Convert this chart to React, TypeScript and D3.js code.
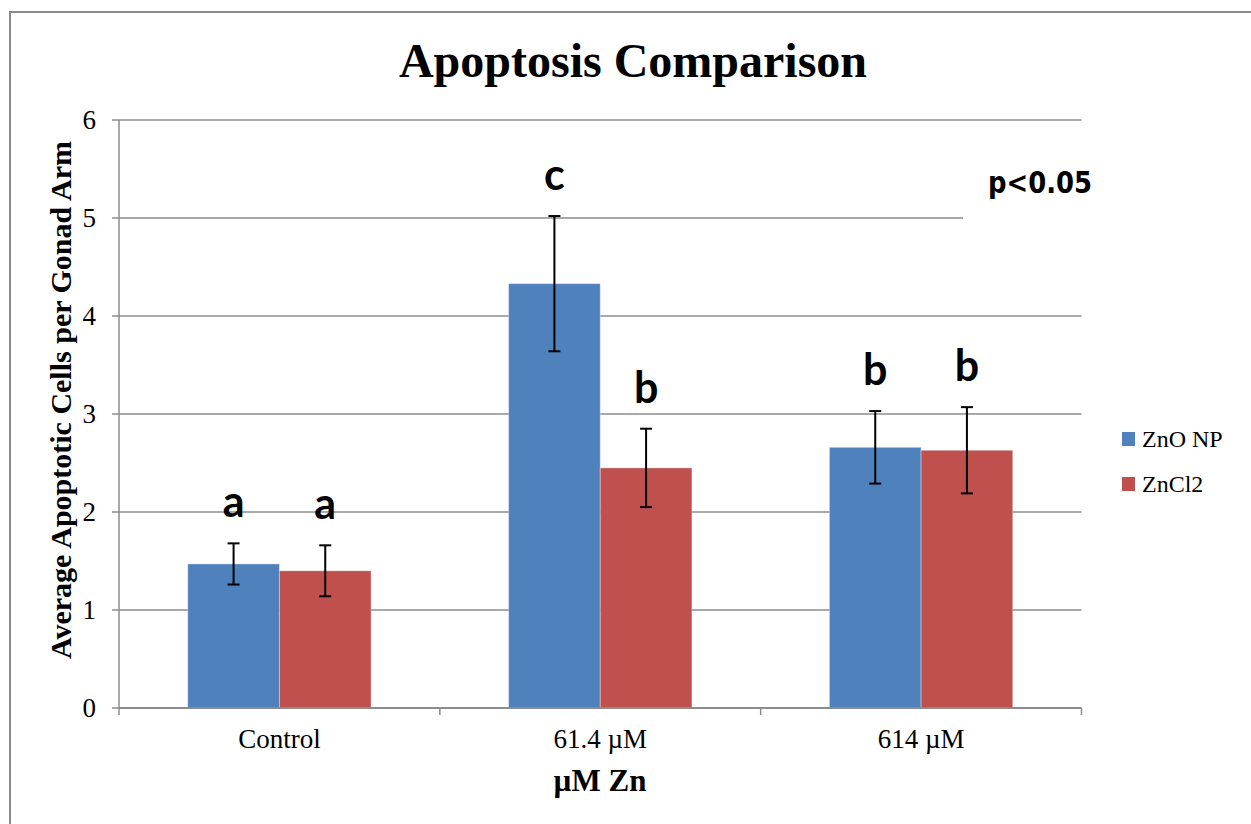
import React from 'react';
import { scaleBand, scaleLinear, range } from 'd3';

const categories = ['Control', '61.4 \u00b5M', '614 \u00b5M'];
const seriesNames = ['ZnO NP', 'ZnCl2'];
const seriesColors = ['#4F81BD', '#C0504D'];
// values[series][category]
const znoValues = [1.47, 4.33, 2.66];
const zncl2Values = [1.4, 2.45, 2.63];
const znoErrors = [0.21, 0.69, 0.37];
const zncl2Errors = [0.26, 0.4, 0.44];
const znoLetters = ['a', 'c', 'b'];
const zncl2Letters = ['a', 'b', 'b'];
const yTicks = [0, 1, 2, 3, 4, 5, 6];

const width = 1251;
const height = 824;
const margin = { top: 120, right: 170, bottom: 116, left: 119 };

const serif = '"Liberation Serif", "Times New Roman", serif';
const gridColor = '#8c8c8c';

function App() {
  const innerRight = width - margin.right + 0.5;
  const innerBottom = height - margin.bottom;

  const x = scaleBand<string>()
    .domain(categories)
    .range([margin.left, innerRight])
    .padding(0);

  const xInner = scaleBand<string>()
    .domain(seriesNames)
    .range([0, x.bandwidth()])
    .paddingInner(0)
    .paddingOuter(0.75);

  const y = scaleLinear().domain([0, 6]).range([innerBottom, margin.top]);

  const series = [
    { name: seriesNames[0], color: seriesColors[0], values: znoValues, errors: znoErrors, letters: znoLetters },
    { name: seriesNames[1], color: seriesColors[1], values: zncl2Values, errors: zncl2Errors, letters: zncl2Letters },
  ];

  const boundaries = range(categories.length + 1).map(i =>
    i < categories.length ? (x(categories[i]) as number) : innerRight
  );

  return (
    <svg
      width={width}
      height={height}
      style={{ position: 'absolute', left: 0, top: 0, background: '#fff' }}
    >
      <rect x={10} y={12} width={width + 20} height={height + 20} fill="#fff" stroke="#8a8a8a" strokeWidth={2} />

      <text x={633} y={77} textAnchor="middle" fontFamily={serif} fontWeight="bold" fontSize={48}>
        Apoptosis Comparison
      </text>

      {/* gridlines */}
      {yTicks.slice(1).map(t => (
        <line key={t} x1={margin.left} x2={innerRight} y1={y(t)} y2={y(t)} stroke={gridColor} strokeWidth={1.5} />
      ))}

      {/* text box for p value hides part of gridline */}
      <rect x={963} y={160} width={140} height={64} fill="#fff" />
      <text
        x={988}
        y={193}
        fontFamily='"DejaVu Sans", Verdana, sans-serif'
        fontWeight="bold"
        fontSize={30}
        textLength={104}
        lengthAdjust="spacingAndGlyphs"
      >
        p&lt;0.05
      </text>

      {/* bars */}
      {series.map(s =>
        categories.map((c, i) => {
          const bx = (x(c) as number) + (xInner(s.name) as number);
          return (
            <rect
              key={s.name + c}
              x={bx}
              y={y(s.values[i])}
              width={xInner.bandwidth()}
              height={innerBottom - y(s.values[i])}
              fill={s.color}
              stroke="#ffffff"
              strokeOpacity={0.35}
              strokeWidth={1}
            />
          );
        })
      )}

      {/* error bars */}
      {series.map(s =>
        categories.map((c, i) => {
          const cx = (x(c) as number) + (xInner(s.name) as number) + xInner.bandwidth() / 2;
          const top = y(s.values[i] + s.errors[i]);
          const bot = y(s.values[i] - s.errors[i]);
          return (
            <g key={'e' + s.name + c} stroke="#000" strokeWidth={2}>
              <line x1={cx} x2={cx} y1={top} y2={bot} />
              <line x1={cx - 6} x2={cx + 6} y1={top} y2={top} />
              <line x1={cx - 6} x2={cx + 6} y1={bot} y2={bot} />
            </g>
          );
        })
      )}

      {/* significance letters */}
      {series.map(s =>
        categories.map((c, i) => {
          const cx = (x(c) as number) + (xInner(s.name) as number) + xInner.bandwidth() / 2;
          return (
            <text
              key={'l' + s.name + c}
              x={cx}
              y={y(s.values[i] + s.errors[i]) - 26}
              textAnchor="middle"
              fontFamily='Lato, "Open Sans", sans-serif'
              fontWeight="bold"
              fontSize={43}
            >
              {s.letters[i]}
            </text>
          );
        })
      )}

      {/* y axis */}
      <line x1={margin.left} x2={margin.left} y1={margin.top} y2={innerBottom} stroke={gridColor} strokeWidth={1.5} />
      {yTicks.map(t => (
        <g key={'yt' + t}>
          <line x1={margin.left - 7} x2={margin.left} y1={y(t)} y2={y(t)} stroke={gridColor} strokeWidth={1.5} />
          <text x={96} y={y(t)} dy="0.35em" textAnchor="end" fontFamily={serif} fontSize={27}>
            {t}
          </text>
        </g>
      ))}

      {/* x axis */}
      <line x1={margin.left} x2={innerRight} y1={innerBottom} y2={innerBottom} stroke={gridColor} strokeWidth={2} />
      {boundaries.map((b, i) => (
        <line key={'xt' + i} x1={b} x2={b} y1={innerBottom} y2={innerBottom + 7} stroke={gridColor} strokeWidth={1.5} />
      ))}
      {categories.map(c => (
        <text
          key={'xl' + c}
          x={(x(c) as number) + x.bandwidth() / 2}
          y={748}
          textAnchor="middle"
          fontFamily={serif}
          fontSize={27}
        >
          {c}
        </text>
      ))}

      <text x={600} y={791} textAnchor="middle" fontFamily={serif} fontWeight="bold" fontSize={31}>
        {'\u00b5M Zn'}
      </text>

      <text
        transform={`translate(71, 400) rotate(-90)`}
        textAnchor="middle"
        fontFamily={serif}
        fontWeight="bold"
        fontSize={30}
      >
        Average Apoptotic Cells per Gonad Arm
      </text>

      {/* legend */}
      {series.map((s, i) => (
        <g key={'lg' + s.name} transform={`translate(1122, ${432 + i * 45})`}>
          <rect x={0} y={0} width={13} height={14} fill={s.color} />
          <text x={20} y={15} fontFamily={serif} fontSize={24}>
            {s.name}
          </text>
        </g>
      ))}
    </svg>
  );
}

export default App;
